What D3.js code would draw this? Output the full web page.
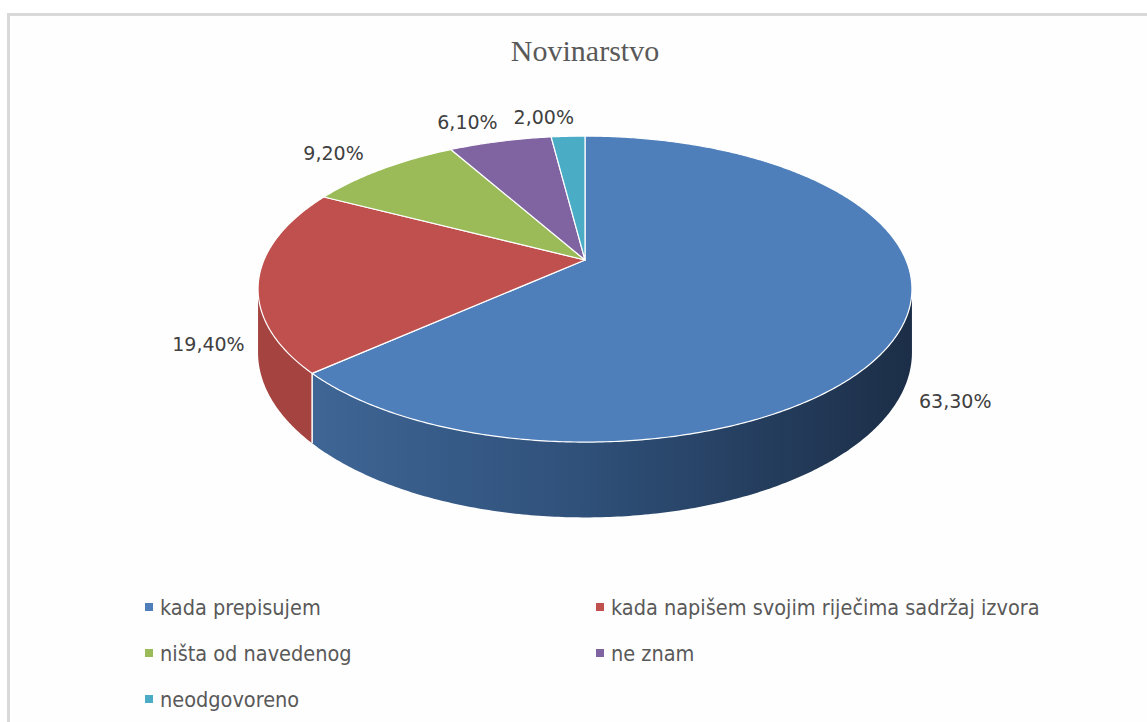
<html>
<head>
<meta charset="utf-8">
<title>Novinarstvo</title>
<style>
  body { margin: 0; background: #fff; }
  svg { display: block; }
</style>
<script src="https://cdnjs.cloudflare.com/ajax/libs/d3/7.8.5/d3.min.js"></script>
</head>
<body>
<div id="chart"></div>
<script>
  // data
  var title = "Novinarstvo";
  var categories = ["kada prepisujem", "kada napišem svojim riječima sadržaj izvora",
                    "ništa od navedenog", "ne znam", "neodgovoreno"];
  var values = [63.3, 19.4, 9.2, 6.1, 2.0];
  var colors = ["#4f7fbb", "#c0504d", "#9bbb59", "#8064a2", "#4bacc6"];
  var wallColors = ["#3a5f8c", "#a4433f", "#7f9a47", "#665084", "#3b8ea3"];

  var w = 1147, h = 722;

  // 3d pie projection (perspective tilt)
  var CX = 585, CY = 260, A = 321, B = 147.5, P = 0.19, H = 61;

  function proj(theta, k, drop) {
    var u = Math.sin(theta) * k, v = -Math.cos(theta) * k;
    var f = 1 / (1 - P * v);
    return [CX + A * u * f, CY + (B * v + drop) * f];
  }

  function arcPoints(a0, a1, k, drop) {
    var n = Math.max(2, Math.ceil((a1 - a0) / 0.01));
    var pts = [];
    for (var i = 0; i <= n; i++) pts.push(proj(a0 + (a1 - a0) * i / n, k, drop));
    return pts;
  }

  var svg = d3.select("#chart").append("svg")
      .attr("width", w).attr("height", h);

  // frame
  svg.append("rect")
      .attr("x", 8.5).attr("y", 14.5)
      .attr("width", w + 20).attr("height", h + 20)
      .attr("fill", "#fefefe")
      .attr("stroke", "#d9d9d9").attr("stroke-width", 3);

  svg.append("text")
      .attr("x", CX).attr("y", 61)
      .attr("text-anchor", "middle")
      .style("font-family", "'Liberation Serif', 'Times New Roman', serif")
      .style("font-size", "30px")
      .attr("fill", "#595959")
      .text(title);

  var pie = d3.pie().sort(null).startAngle(0).endAngle(2 * Math.PI);
  var arcs = pie(values);

  // visible part of the outer wall (silhouette where cos = -P)
  var visS = Math.acos(-P), visE = 2 * Math.PI - Math.acos(-P);

  var defs = svg.append("defs");
  var lx0 = proj(visS, 1, 0)[0], lx1 = proj(visE, 1, 0)[0];
  var grad = defs.append("linearGradient").attr("id", "blueWall")
      .attr("gradientUnits", "userSpaceOnUse")
      .attr("x1", lx1).attr("x2", lx0).attr("y1", 0).attr("y2", 0);
  grad.append("stop").attr("offset", "0%").attr("stop-color", "#426a9b");
  grad.append("stop").attr("offset", "15%").attr("stop-color", "#3c6291");
  grad.append("stop").attr("offset", "50%").attr("stop-color", "#2f5079");
  grad.append("stop").attr("offset", "100%").attr("stop-color", "#1c2e47");

  var line = d3.line();
  var walls = svg.append("g");
  arcs.forEach(function(d, i) {
    var s = Math.max(d.startAngle, visS), e = Math.min(d.endAngle, visE);
    if (e <= s) return;
    var top = arcPoints(s, e, 1, 0);
    var bot = arcPoints(s, e, 1, H).reverse();
    walls.append("path")
        .attr("d", line(top.concat(bot)) + "Z")
        .attr("fill", i === 0 ? "url(#blueWall)" : wallColors[i]);
  });
  // slice edges on the wall
  arcs.forEach(function(d) {
    var a = d.startAngle;
    if (a > visS && a < visE) {
      walls.append("path")
          .attr("d", line([proj(a, 1, 0), proj(a, 1, H)]))
          .attr("stroke", "#fff").attr("stroke-width", 1.5);
    }
  });

  // top faces
  var tops = svg.append("g");
  arcs.forEach(function(d, i) {
    var pts = [proj(0, 0, 0)].concat(arcPoints(d.startAngle, d.endAngle, 1, 0));
    tops.append("path")
        .attr("d", line(pts) + "Z")
        .attr("fill", colors[i])
        .attr("stroke", "#fff").attr("stroke-width", 1.2)
        .attr("stroke-linejoin", "round");
  });

  // data labels
  var fmt = function(v) { return v.toFixed(2).replace(".", ",") + "%"; };
  var labels = svg.append("g")
      .style("font-family", "'DejaVu Sans', sans-serif")
      .style("font-size", "19px")
      .attr("fill", "#404040");
  arcs.forEach(function(d) {
    var mid = (d.startAngle + d.endAngle) / 2;
    var v = -Math.cos(mid);
    var p = proj(mid, 1.15, 0);
    var front = v > 0;
    if (front) p[1] += H / (1 - P * v);
    labels.append("text")
        .attr("x", front ? p[0] : p[0] + 8)
        .attr("y", front ? p[1] : p[1] - 4)
        .attr("dy", "0.36em")
        .attr("text-anchor", front ? "middle" : "end")
        .text(fmt(d.data));
  });

  // legend
  var colX = [145, 596], rowY = [607, 653, 699];
  var legend = svg.append("g")
      .style("font-family", "'Liberation Sans Narrow', 'DejaVu Sans Condensed', sans-serif")
      .style("font-size", "21.5px");
  categories.forEach(function(c, i) {
    var x = colX[i % 2], y = rowY[Math.floor(i / 2)];
    legend.append("rect")
        .attr("x", x).attr("y", y - 4)
        .attr("width", 8).attr("height", 8)
        .attr("fill", colors[i]);
    legend.append("text")
        .attr("x", x + 15).attr("y", y)
        .attr("dy", "0.35em")
        .attr("fill", "#595959")
        .text(c);
  });
</script>
</body>
</html>
